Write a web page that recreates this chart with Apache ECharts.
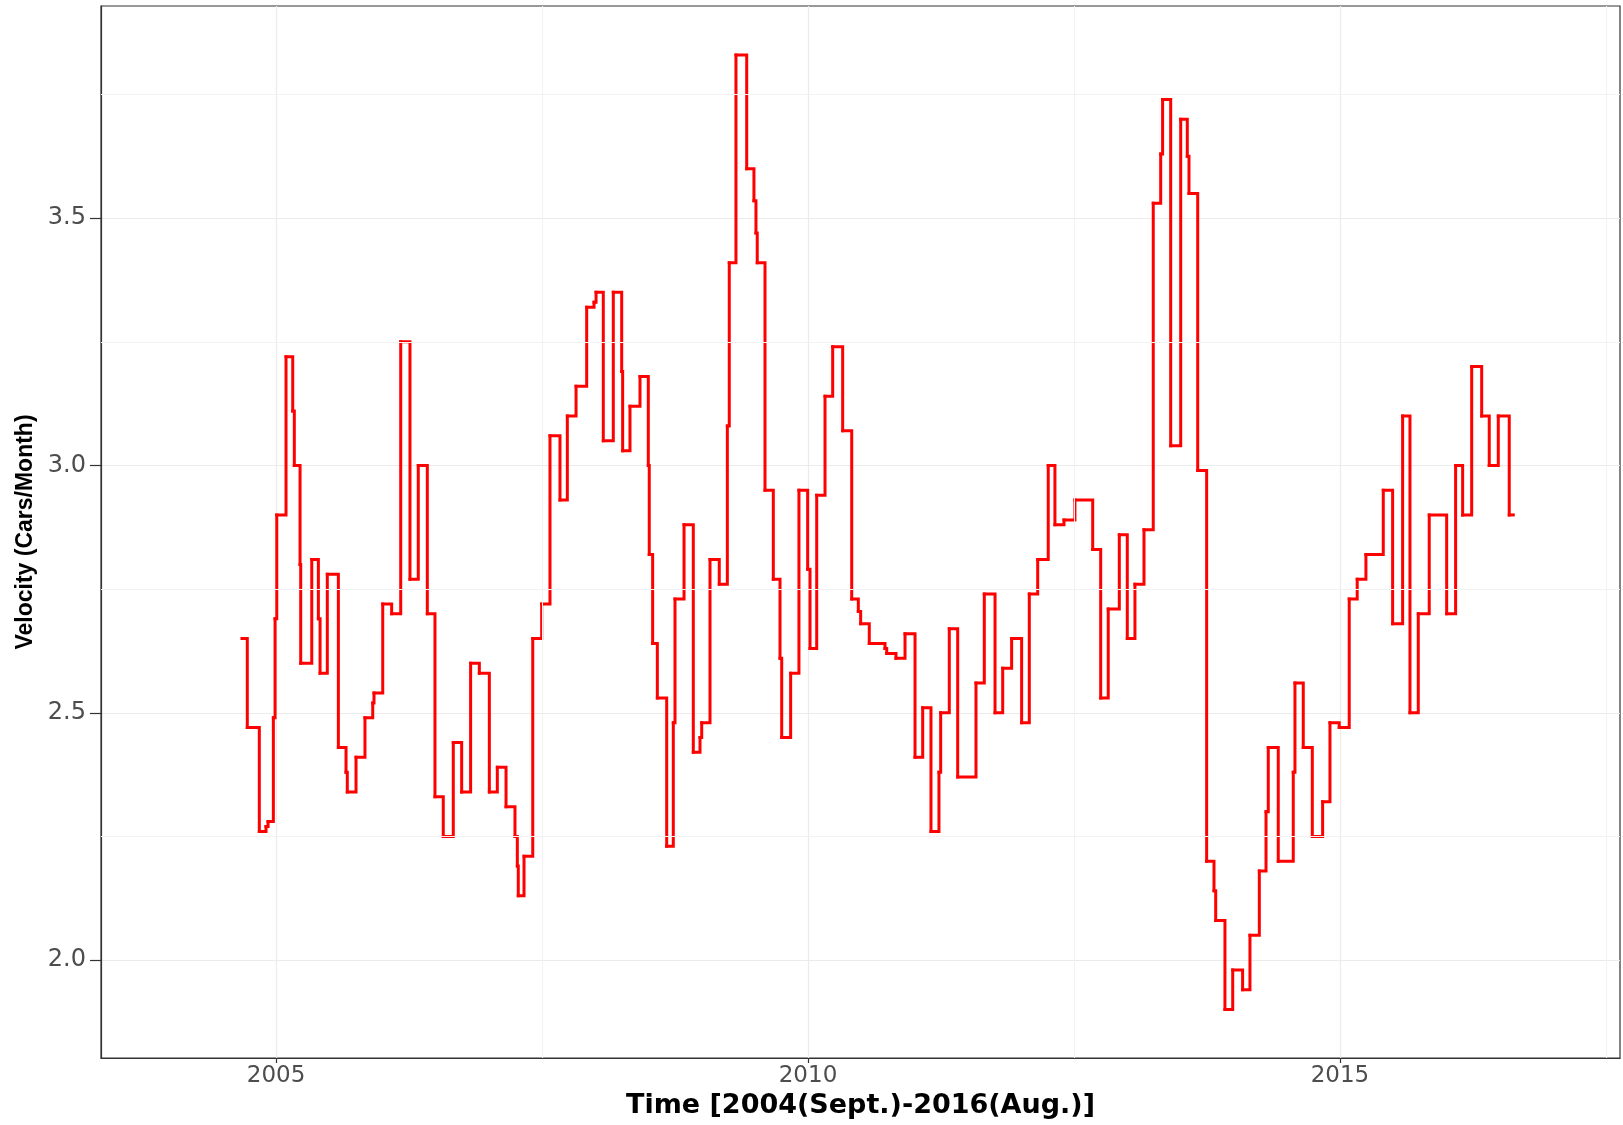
<!DOCTYPE html>
<html>
<head>
<meta charset="utf-8">
<script src="https://cdn.jsdelivr.net/npm/echarts@6/dist/echarts.min.js"></script>
<style>
  html, body { margin: 0; padding: 0; background: #fff; }
  #chart { width: 1623px; height: 1125px; }
</style>
</head>
<body>
<div id="chart"></div>
<script>
// time in decimal years (start of each step), velocity in cars/month
var times = [
  2004.680, 2004.730, 2004.843, 2004.906, 2004.925, 2004.975, 2004.991, 2005.007,
  2005.094, 2005.157, 2005.172, 2005.226, 2005.232, 2005.336, 2005.398, 2005.414,
  2005.482, 2005.586, 2005.658, 2005.670, 2005.752, 2005.836, 2005.909, 2005.921,
  2006.003, 2006.087, 2006.172, 2006.259, 2006.337, 2006.422, 2006.494, 2006.572,
  2006.666, 2006.745, 2006.829, 2006.911, 2007.005, 2007.080, 2007.162, 2007.246,
  2007.268, 2007.277, 2007.331, 2007.413, 2007.497, 2007.575, 2007.669, 2007.738,
  2007.820, 2007.920, 2007.989, 2008.008, 2008.076, 2008.170, 2008.249, 2008.258,
  2008.327, 2008.421, 2008.499, 2008.508, 2008.540, 2008.584, 2008.672, 2008.734,
  2008.750, 2008.835, 2008.922, 2008.985, 2009.001, 2009.079, 2009.166, 2009.242,
  2009.260, 2009.323, 2009.424, 2009.492, 2009.511, 2009.523, 2009.596, 2009.674,
  2009.737, 2009.753, 2009.837, 2009.915, 2009.997, 2010.019, 2010.082, 2010.160,
  2010.232, 2010.326, 2010.411, 2010.473, 2010.495, 2010.576, 2010.724, 2010.740,
  2010.827, 2010.912, 2011.006, 2011.078, 2011.156, 2011.231, 2011.247, 2011.328,
  2011.407, 2011.579, 2011.657, 2011.758, 2011.830, 2011.914, 2012.008, 2012.080,
  2012.159, 2012.258, 2012.321, 2012.406, 2012.509, 2012.676, 2012.751, 2012.822,
  2012.926, 2013.001, 2013.073, 2013.158, 2013.245, 2013.315, 2013.333, 2013.409,
  2013.503, 2013.565, 2013.581, 2013.663, 2013.747, 2013.816, 2013.832, 2013.919,
  2013.992, 2014.085, 2014.154, 2014.242, 2014.305, 2014.326, 2014.420, 2014.561,
  2014.577, 2014.655, 2014.740, 2014.837, 2014.906, 2014.993, 2015.087, 2015.162,
  2015.244, 2015.407, 2015.495, 2015.589, 2015.658, 2015.736, 2015.839, 2016.003,
  2016.087, 2016.153, 2016.238, 2016.332, 2016.403, 2016.488, 2016.591, 2016.629
];
var velocity = [
  2.65, 2.47, 2.26, 2.27, 2.28, 2.49, 2.69, 2.90,
  3.22, 3.11, 3.00, 2.80, 2.60, 2.81, 2.69, 2.58,
  2.78, 2.43, 2.38, 2.34, 2.41, 2.49, 2.52, 2.54,
  2.72, 2.70, 3.25, 2.77, 3.00, 2.70, 2.33, 2.25,
  2.44, 2.34, 2.60, 2.58, 2.34, 2.39, 2.31, 2.25,
  2.19, 2.13, 2.21, 2.65, 2.72, 3.06, 2.93, 3.10,
  3.16, 3.32, 3.33, 3.35, 3.05, 3.35, 3.19, 3.03,
  3.12, 3.18, 3.00, 2.82, 2.64, 2.53, 2.23, 2.48,
  2.73, 2.88, 2.42, 2.45, 2.48, 2.81, 2.76, 3.08,
  3.41, 3.83, 3.60, 3.535, 3.47, 3.41, 2.95, 2.77,
  2.61, 2.45, 2.58, 2.95, 2.79, 2.63, 2.94, 3.14,
  3.24, 3.07, 2.73, 2.705, 2.68, 2.64, 2.63, 2.62,
  2.61, 2.66, 2.41, 2.51, 2.26, 2.38, 2.50, 2.67,
  2.37, 2.56, 2.74, 2.50, 2.59, 2.65, 2.48, 2.74,
  2.81, 3.00, 2.88, 2.89, 2.93, 2.83, 2.53, 2.71,
  2.86, 2.65, 2.76, 2.87, 3.53, 3.63, 3.74, 3.04,
  3.70, 3.625, 3.55, 2.99, 2.20, 2.14, 2.08, 1.90,
  1.98, 1.94, 2.05, 2.18, 2.30, 2.43, 2.20, 2.38,
  2.56, 2.43, 2.25, 2.32, 2.48, 2.47, 2.73, 2.77,
  2.82, 2.95, 2.68, 3.10, 2.50, 2.70, 2.90, 2.70,
  3.00, 2.90, 3.20, 3.10, 3.00, 3.10, 2.90, 2.90
];
var xTicks = [2005, 2010, 2015];
var xMinor = [2007.5, 2012.5, 2017.5];
var yTicks = [2.0, 2.5, 3.0, 3.5];
var yMinor = [2.25, 2.75, 3.25, 3.75];

// one item per step: [t_i, v_i, t_i+1, v_i+1]
var steps = [];
for (var i = 0; i < times.length - 1; i++) {
  steps.push([times[i], velocity[i], times[i + 1], velocity[i + 1]]);
}

var chart = echarts.init(document.getElementById("chart"));

var minorLines = [];
xMinor.forEach(function (v) { minorLines.push({ xAxis: v }); });
yMinor.forEach(function (v) { minorLines.push({ yAxis: v }); });

function renderStep(params, api) {
  var a = api.coord([api.value(0), api.value(1)]);
  var b = api.coord([api.value(2), api.value(1)]);
  var c = api.coord([api.value(2), api.value(3)]);
  return {
    type: "polyline",
    shape: { points: [a, b, c] },
    style: {
      fill: null,
      stroke: "#FF0000",
      lineWidth: 3,
      lineCap: "square",
      lineJoin: "miter"
    },
    silent: true
  };
}

chart.setOption({
  animation: false,
  backgroundColor: "#ffffff",
  grid: {
    left: 101,
    right: 3,
    top: 6,
    bottom: 67,
    show: true,
    borderColor: "#333333",
    borderWidth: 1.2,
    backgroundColor: "#ffffff"
  },
  xAxis: {
    type: "value",
    min: 2003.355,
    max: 2017.632,
    name: "Time [2004(Sept.)-2016(Aug.)]",
    nameLocation: "middle",
    nameGap: 19,
    nameTextStyle: {
      fontFamily: "DejaVu Sans",
      fontWeight: "bold",
      fontSize: 27,
      color: "#000000"
    },
    axisLine: { show: true, lineStyle: { color: "#333333", width: 1.2 } },
    axisTick: {
      show: true,
      customValues: xTicks,
      length: 5,
      lineStyle: { color: "#333333", width: 1.2 }
    },
    axisLabel: {
      customValues: xTicks,
      fontFamily: "DejaVu Sans",
      fontSize: 23,
      color: "#4D4D4D",
      margin: 7,
      formatter: function (v) { return String(v); }
    },
    splitLine: { show: true, lineStyle: { color: "#EBEBEB", width: 1.2 } }
  },
  yAxis: {
    type: "value",
    min: 1.802,
    max: 3.929,
    name: "Velocity (Cars/Month)",
    nameLocation: "middle",
    nameGap: 57,
    nameRotate: 90,
    nameTextStyle: {
      fontFamily: "Liberation Sans",
      fontWeight: "bold",
      fontSize: 23,
      color: "#000000"
    },
    axisLine: { show: true, lineStyle: { color: "#333333", width: 1.2 } },
    axisTick: {
      show: true,
      customValues: yTicks,
      length: 11,
      lineStyle: { color: "#333333", width: 1.2 }
    },
    axisLabel: {
      customValues: yTicks,
      fontFamily: "DejaVu Sans",
      fontSize: 24,
      color: "#4D4D4D",
      margin: 15,
      formatter: function (v) { return v.toFixed(1); }
    },
    splitLine: { show: true, lineStyle: { color: "#EBEBEB", width: 1.2 } }
  },
  series: [
    {
      // minor grid lines
      type: "line",
      data: [[2010, 3.0]],
      showSymbol: false,
      lineStyle: { width: 0 },
      silent: true,
      z: 1,
      markLine: {
        silent: true,
        symbol: ["none", "none"],
        label: { show: false },
        lineStyle: { color: "#F2F2F2", width: 1, type: "solid" },
        data: minorLines
      }
    },
    {
      type: "custom",
      renderItem: renderStep,
      data: steps,
      encode: { x: [0, 2], y: [1, 3] },
      z: 3
    }
  ]
});
</script>
</body>
</html>
